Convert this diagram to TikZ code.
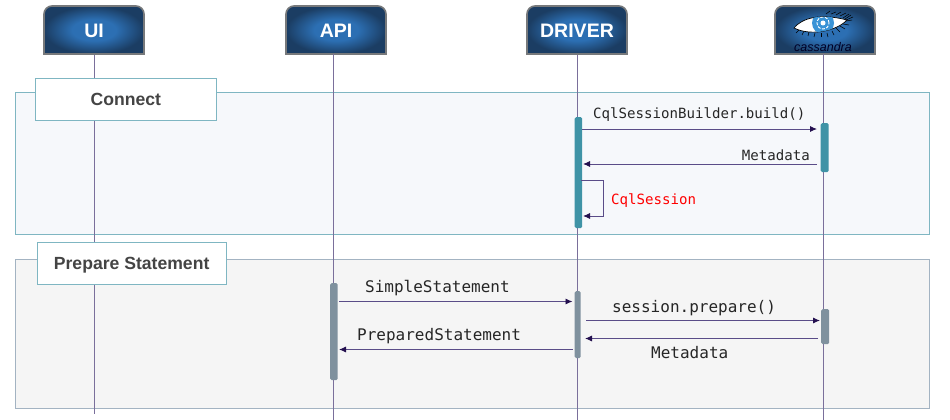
\documentclass[tikz,border=0pt]{standalone}
\usepackage{fontspec}
\setmainfont{Liberation Sans}
\setmonofont{DejaVu Sans Mono}
\usetikzlibrary{arrows.meta}
\definecolor{lifeline}{HTML}{7A6F9B}
\definecolor{msgline}{HTML}{5A4C88}
\definecolor{tipcol}{HTML}{24104F}
\definecolor{tealedge}{HTML}{7FB6C2}
\definecolor{grayedge}{HTML}{A3B3C2}
\definecolor{tealbar}{HTML}{3F93A6}
\definecolor{graybar}{HTML}{7F919E}
\definecolor{hdredge}{HTML}{77797B}
\definecolor{hdrin}{HTML}{2C6FB3}
\definecolor{hdrout}{HTML}{1B3D63}
\definecolor{labtext}{HTML}{444444}
\definecolor{frameafill}{HTML}{F6F8FB}
\definecolor{framebfill}{HTML}{F5F5F5}
\definecolor{iris}{HTML}{3A93D6}
\pgfdeclareradialshading{hdrshade}{\pgfpoint{0bp}{0bp}}{color(0bp)=(hdrin); color(11bp)=(hdrin); color(25bp)=(hdrout); color(50bp)=(hdrout)}
\tikzset{
  x=1pt,y=-1pt,
  hdrlabel/.style={font=\fontsize{19.5}{22}\selectfont\bfseries,text=white,inner sep=0pt},
  hdrbody/.style={draw=hdredge,line width=1.6pt,shading=hdrshade},
  life/.style={draw=lifeline,line width=0.9pt},
  frameA/.style={draw=tealedge,line width=0.8pt,fill=frameafill},
  frameB/.style={draw=grayedge,line width=0.8pt,fill=framebfill},
  framelabel/.style={draw=tealedge,line width=0.8pt,fill=white,text=labtext,font=\fontsize{17.6}{20}\selectfont\bfseries,inner sep=0pt,anchor=north west,text height=13pt,text depth=0pt},
  bar/.style={rounded corners=1.5pt,inner sep=0pt,anchor=north west,minimum height=0pt},
  msg/.style={draw=msgline,line width=0.9pt,-{Latex[length=7pt,width=6pt,color=tipcol]}},
  msgbig/.style={font=\ttfamily\fontsize{16}{18}\selectfont,text=black!85,inner sep=0pt},
  msgsmall/.style={font=\ttfamily\fontsize{14.1}{16}\selectfont,text=black!85,inner sep=0pt},
  lash/.style={draw=black,line width=0.55pt},
}
\newcommand{\hdrbox}[3]{%
  \path[hdrbody] (#2-50,54) -- (#2-50,14) arc[start angle=180,end angle=90,radius=8pt] -- (#2+42,6) arc[start angle=90,end angle=0,radius=8pt] -- (#2+50,54) -- cycle;
  \node[hdrlabel,minimum width=100pt,minimum height=48pt] (#1) at (#2,31) {#3};}
\begin{document}
\begin{tikzpicture}
\useasboundingbox (0,0) rectangle (950,420);
% frames
\path[frameA] (15.5,92) rectangle (929.5,234.5);
\path[frameB] (15.5,259.5) rectangle (929.5,408);
% headers
\hdrbox{ui}{94}{UI}
\hdrbox{api}{336}{API}
\hdrbox{driver}{577}{DRIVER}
\hdrbox{cass}{825}{}
% cassandra logo
\foreach \ax/\ay/\bx/\by in {826/14/830/11,831/14/836/12,836/15/841/12,840/16/846/13,843/18/849/14,845/19/851/15,846/20/853/17,846/21/852/20,843/24/849/25,840/26/845/29,836/28/840/32}{
  \draw[lash] (\ax,\ay) -- (\bx,\by);}
\foreach \ax/\ay/\bx/\by in {799/30/796/33,804/31/802/35,809/32/808/36,815/33/814/37,821/33/821/37,827/33/828/37,832/31/834/35}{
  \draw[lash] (\ax,\ay) -- (\bx,\by);}
\path[fill=white,draw=black,line width=0.7pt] (794,28) .. controls (802,18) and (820,13) .. (847,20) .. controls (838,30) and (812,37) .. (794,28) -- cycle;
\begin{scope}
  \clip (794,28) .. controls (802,18) and (820,13) .. (847,20) .. controls (838,30) and (812,37) .. (794,28) -- cycle;
  \path[fill=iris] (823,23) circle[radius=11pt];
  \draw[white,line width=0.9pt,dash pattern=on 3pt off 1.5pt] (823,23) circle[radius=6pt];
  \path[fill=white] (823,23) circle[radius=2.5pt];
\end{scope}
\node[font=\fontsize{12.5}{14}\selectfont\itshape,text=black!85!blue,inner sep=0pt] (casslogo) at (823,47) {cassandra};
% lifelines
\coordinate (uiend) at (94,414);
\coordinate (apitop) at (333,54);
\coordinate (apiend) at (333,420);
\coordinate (drvend) at (577,420);
\coordinate (casstop) at (823,54);
\coordinate (cassend) at (823,420);
\draw[life] (ui.south) -- (uiend);
\draw[life] (apitop) -- (apiend);
\draw[life] (driver.south) -- (drvend);
\draw[life] (casstop) -- (cassend);
% frame labels
\node[framelabel,minimum width=181pt,minimum height=42pt] (connect) at (35,77.5) {Connect};
\node[framelabel,minimum width=189.5pt,minimum height=42pt] (prep) at (36.5,242) {Prepare Statement};
% activations
\node[bar,fill=tealbar,minimum width=7.5pt,minimum height=111pt] (drvA) at (574.5,117) {};
\node[bar,fill=tealbar,minimum width=8pt,minimum height=49pt] (casA) at (820.5,123) {};
\node[bar,fill=graybar,minimum width=7.5pt,minimum height=97pt] (apiB) at (330,283) {};
\node[bar,fill=graybar,minimum width=6pt,minimum height=67pt] (drvB) at (574.5,291) {};
\node[bar,fill=graybar,minimum width=8pt,minimum height=35pt] (casB) at (821,309) {};
% message ends
\coordinate (m1a) at (582,129); \coordinate (m1b) at (817,129);
\coordinate (m2a) at (817,164); \coordinate (m2b) at (583,164);
\coordinate (m3a) at (581,180.5); \coordinate (m3c) at (603,180.5); \coordinate (m3d) at (603,216); \coordinate (m3b) at (583,216);
\coordinate (m4a) at (339,301.5); \coordinate (m4b) at (572.5,301.5);
\coordinate (m5a) at (572.5,349.5); \coordinate (m5b) at (339,349.5);
\coordinate (m6a) at (586,320.5); \coordinate (m6b) at (820,320.5);
\coordinate (m7a) at (818,338.5); \coordinate (m7b) at (585,338.5);
\draw[msg] (m1a) -- (m1b);
\draw[msg] (m2a) -- (m2b);
\draw[msg] (m3a) -- (m3c) -- (m3d) -- (m3b);
\draw[msg] (m4a) -- (m4b);
\draw[msg] (m5a) -- (m5b);
\draw[msg] (m6a) -- (m6b);
\draw[msg] (m7a) -- (m7b);
% labels
\node[msgsmall,anchor=west] (t1) at (593,115) {CqlSessionBuilder.build()};
\node[msgsmall,anchor=east] (t2) at (810,155) {Metadata};
\node[msgsmall,anchor=west,text=red,font=\ttfamily\fontsize{14.1}{16}\selectfont] (t3) at (611,201) {CqlSession};
\node[msgbig,anchor=west] (t4) at (365,288) {SimpleStatement};
\node[msgbig,anchor=west] (t5) at (357,336) {PreparedStatement};
\node[msgbig,anchor=west] (t6) at (612,308) {session.prepare()};
\node[msgbig,anchor=west] (t7) at (651,353) {Metadata};
\end{tikzpicture}
\end{document}
